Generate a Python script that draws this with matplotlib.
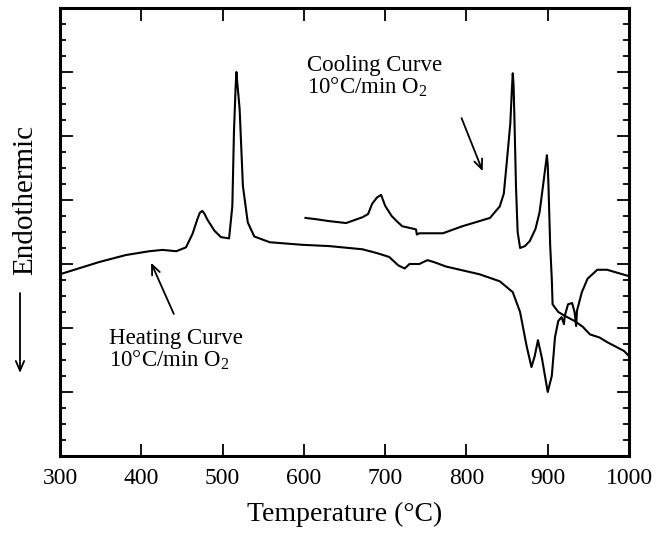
import numpy as np
import matplotlib
matplotlib.use("Agg")
import matplotlib.pyplot as plt

plt.rcParams['font.family'] = ['Liberation Serif', 'DejaVu Serif']
plt.rcParams['mathtext.fontset'] = 'custom'
plt.rcParams['mathtext.rm'] = 'Liberation Serif'

# heating curve, temperature in C, signal in arb. units
heat_T = [300, 348, 381, 410, 426, 443, 455, 463, 469, 472, 475, 478, 481, 490,
          498, 508, 512, 514, 516, 517, 518, 521, 525, 531, 539, 558, 598, 631,
          672, 690, 705, 716, 724, 730, 742, 752, 760, 775, 816, 841, 857, 866,
          874, 880, 884, 888, 893, 900, 905, 909, 913, 917, 920, 921, 925, 930,
          933, 935, 936, 942, 949, 961, 973, 1000]
heat_v = [2.84, 3.03, 3.14, 3.20, 3.22, 3.20, 3.26, 3.47, 3.70, 3.80, 3.83, 3.78,
          3.70, 3.52, 3.42, 3.40, 3.90, 5.06, 5.75, 6.00, 5.85, 5.42, 4.22, 3.65,
          3.43, 3.34, 3.30, 3.28, 3.23, 3.17, 3.11, 2.98, 2.93, 3.00, 3.00, 3.06,
          3.03, 2.96, 2.84, 2.73, 2.56, 2.25, 1.72, 1.39, 1.56, 1.81, 1.52, 1.00,
          1.25, 1.86, 2.11, 2.17, 2.06, 2.19, 2.37, 2.39, 2.25, 2.03, 2.27, 2.56,
          2.77, 2.91, 2.91, 2.81]

# cooling curve
cool_T = [602, 615, 631, 652, 672, 679, 684, 690, 695, 700, 708, 715, 721, 735,
          738, 739, 742, 746, 771, 795, 829, 841, 846, 850, 854, 856, 857, 858,
          859, 861, 863, 866, 872, 878, 885, 890, 894, 898, 899, 900, 901, 903,
          905, 906, 913, 921, 933, 943, 952, 964, 973, 994, 1000]
cool_v = [3.72, 3.70, 3.67, 3.64, 3.73, 3.78, 3.94, 4.04, 4.08, 3.91, 3.75, 3.66,
          3.59, 3.55, 3.54, 3.46, 3.48, 3.48, 3.48, 3.59, 3.72, 3.90, 4.10, 4.64,
          5.20, 5.75, 5.98, 5.80, 5.30, 4.20, 3.50, 3.25, 3.28, 3.36, 3.55, 3.81,
          4.20, 4.60, 4.70, 4.55, 4.20, 3.30, 2.77, 2.37, 2.25, 2.19, 2.11, 2.02,
          1.90, 1.85, 1.78, 1.64, 1.56]

x_ticks = [300, 400, 500, 600, 700, 800, 900, 1000]

fig = plt.figure(figsize=(6.56, 5.37), dpi=100)
ax = fig.add_axes([60/656, 1 - 456/537, 569/656, 448/537])

ax.plot(heat_T, heat_v, 'k-', lw=1.5)
ax.plot(cool_T, cool_v, 'k-', lw=1.5)

ax.set_xlim(300, 1000)
ax.set_ylim(0, 7)
ax.set_xticks(x_ticks)
ax.set_xticklabels([str(t) for t in x_ticks])
ax.set_yticks(np.arange(0, 8, 1))
ax.set_yticks(np.arange(0, 7.01, 0.25), minor=True)
ax.set_yticklabels([])

ax.tick_params(axis='x', which='major', direction='in', top=True, length=9,
               width=1.3, labelsize=17, pad=9)
ax.tick_params(axis='y', which='major', direction='in', right=True, length=9,
               width=1.3)
ax.tick_params(axis='y', which='minor', direction='in', right=True, length=4.5,
               width=1.3)
for s in ax.spines.values():
    s.set_linewidth(2.2)

ax.set_xlabel('Temperature (°C)', fontsize=20, labelpad=9)

# y label with the down arrow
fig.text(25/656, 1 - 200/537, 'Endothermic', rotation=90, fontsize=21,
         ha='center', va='center')
arrow_style = dict(arrowstyle='->,head_length=0.7,head_width=0.3', lw=1.3,
                   color='k', shrinkA=0, shrinkB=0)
ax.annotate('', xy=(20/656, 1 - 373/537), xytext=(20/656, 1 - 293/537),
            xycoords='figure fraction', textcoords='figure fraction',
            arrowprops=arrow_style)

# annotations
ax.text(604, 6.02, 'Cooling Curve', fontsize=16.5)
ax.text(604, 5.67, '10°C/min O$_2$', fontsize=16.5)
ax.annotate('', xy=(820, 4.45), xytext=(794, 5.28), arrowprops=arrow_style)

ax.text(360, 1.75, 'Heating Curve', fontsize=16.5)
ax.text(360, 1.41, '10°C/min O$_2$', fontsize=16.5)
ax.annotate('', xy=(412, 3.02), xytext=(440, 2.22), arrowprops=arrow_style)

fig.savefig('out.png', dpi=100)
